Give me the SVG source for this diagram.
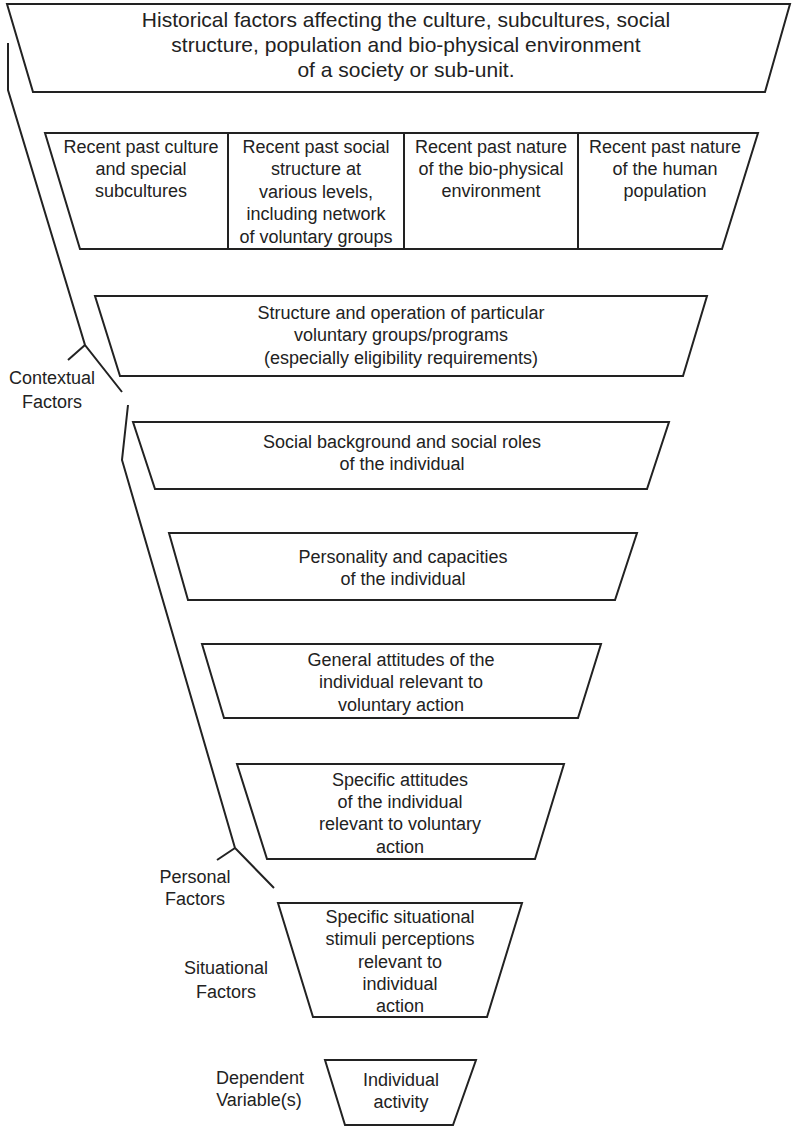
<svg xmlns="http://www.w3.org/2000/svg" width="792" height="1127" viewBox="0 0 792 1127">
<style>
.box{fill:#fff;stroke:#222;stroke-width:2;stroke-linejoin:miter}
.ln{fill:none;stroke:#222;stroke-width:2}
text{font-family:"Liberation Sans",Arial,sans-serif;font-size:18px;fill:#222;text-anchor:middle}
.big{font-size:21px}
</style>
<rect width="792" height="1127" fill="#fff"/>
<g id="connectors">
<polyline class="ln" points="8,43 8,90 85,345 122,392"/>
<line class="ln" x1="85" y1="345" x2="68" y2="360"/>
<polyline class="ln" points="128,405 122,460 235,848 274,888"/>
<line class="ln" x1="235" y1="848" x2="217" y2="860"/>
</g>
<g id="historical">
<polygon class="box" points="7,4 790,4 765,92 33,92"/>
<text class="big" x="406" y="27">Historical factors affecting the culture, subcultures, social</text>
<text class="big" x="406" y="52">structure, population and bio-physical environment</text>
<text class="big" x="406" y="77">of a society or sub-unit.</text>
</g>
<g id="recent-past">
<polygon class="box" points="45,133 758,133 722,249 80,249"/>
<line class="ln" x1="228" y1="133" x2="228" y2="249"/>
<line class="ln" x1="404" y1="133" x2="404" y2="249"/>
<line class="ln" x1="578" y1="133" x2="578" y2="249"/>
</g>
<g id="recent-culture">
<text x="141" y="153">Recent past culture</text>
<text x="141" y="175">and special</text>
<text x="141" y="197">subcultures</text>
</g>
<g id="recent-social">
<text x="316" y="153">Recent past social</text>
<text x="316" y="175">structure at</text>
<text x="316" y="198">various levels,</text>
<text x="316" y="220">including network</text>
<text x="316" y="243">of voluntary groups</text>
</g>
<g id="recent-environment">
<text x="491" y="153">Recent past nature</text>
<text x="491" y="175">of the bio-physical</text>
<text x="491" y="197">environment</text>
</g>
<g id="recent-population">
<text x="665" y="153">Recent past nature</text>
<text x="665" y="175">of the human</text>
<text x="665" y="197">population</text>
</g>
<g id="structure">
<polygon class="box" points="95,296 707,296 683,376 120,376"/>
<text x="401" y="319">Structure and operation of particular</text>
<text x="401" y="341">voluntary groups/programs</text>
<text x="401" y="364">(especially eligibility requirements)</text>
</g>
<g id="social-background">
<polygon class="box" points="133,422 669,422 647,489 155,489"/>
<text x="402" y="448">Social background and social roles</text>
<text x="402" y="470">of the individual</text>
</g>
<g id="personality">
<polygon class="box" points="169,533 637,533 615,600 188,600"/>
<text x="403" y="563">Personality and capacities</text>
<text x="403" y="585">of the individual</text>
</g>
<g id="general-attitudes">
<polygon class="box" points="202,644 601,644 578,718 224,718"/>
<text x="401" y="666">General attitudes of the</text>
<text x="401" y="688">individual relevant to</text>
<text x="401" y="711">voluntary action</text>
</g>
<g id="specific-attitudes">
<polygon class="box" points="237,764 564,764 535,859 267,859"/>
<text x="400" y="786">Specific attitudes</text>
<text x="400" y="808">of the individual</text>
<text x="400" y="830">relevant to voluntary</text>
<text x="400" y="853">action</text>
</g>
<g id="situational">
<polygon class="box" points="278,903 522,903 487,1017 313,1017"/>
<text x="400" y="923">Specific situational</text>
<text x="400" y="945">stimuli perceptions</text>
<text x="400" y="968">relevant to</text>
<text x="400" y="990">individual</text>
<text x="400" y="1012">action</text>
</g>
<g id="individual-activity">
<polygon class="box" points="325,1060 476,1060 453,1125 345,1125"/>
<text x="401" y="1086">Individual</text>
<text x="401" y="1108">activity</text>
</g>
<g id="labels">
<text x="52" y="384">Contextual</text>
<text x="52" y="408">Factors</text>
<text x="195" y="883">Personal</text>
<text x="195" y="905">Factors</text>
<text x="226" y="974">Situational</text>
<text x="226" y="998">Factors</text>
<text x="260" y="1084">Dependent</text>
<text x="259" y="1106">Variable(s)</text>
</g>
</svg>
